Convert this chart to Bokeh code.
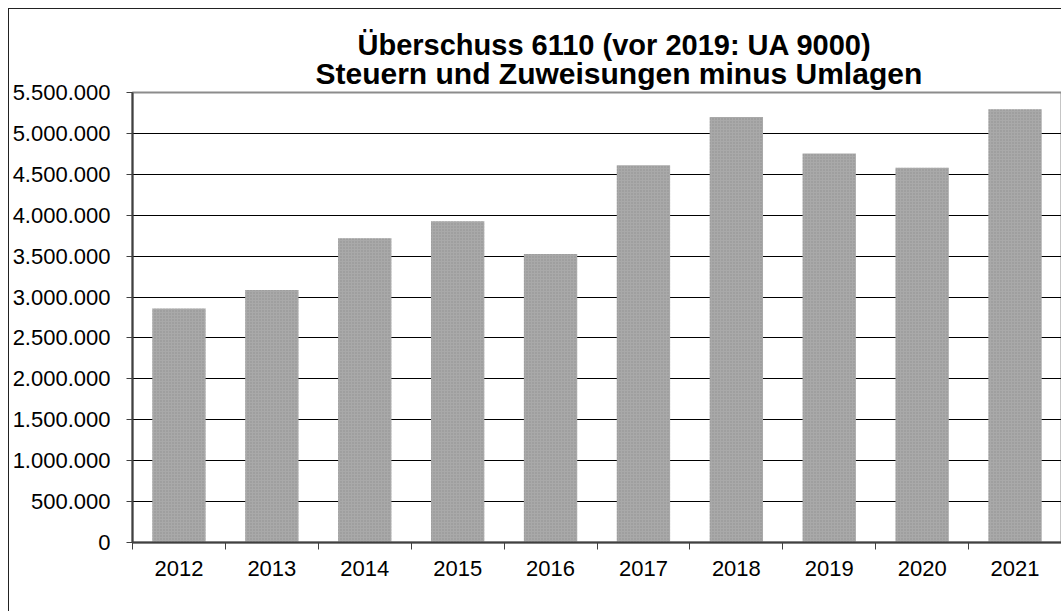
from bokeh.plotting import figure
from bokeh.models import Range1d, FixedTicker, Title
from bokeh.embed import file_html
from bokeh.resources import INLINE

# ---- data ----
years = ["2012", "2013", "2014", "2015", "2016", "2017", "2018", "2019", "2020", "2021"]
values = [2860000, 3085000, 3720000, 3925000, 3525000, 4610000, 5200000, 4755000, 4580000, 5295000]
y_ticks = [0, 500000, 1000000, 1500000, 2000000, 2500000, 3000000, 3500000,
           4000000, 4500000, 5000000, 5500000]
y_tick_labels = ["0", "500.000", "1.000.000", "1.500.000", "2.000.000", "2.500.000",
                 "3.000.000", "3.500.000", "4.000.000", "4.500.000", "5.000.000", "5.500.000"]
title_lines = ["Überschuss 6110 (vor 2019: UA 9000)", "Steuern und Zuweisungen minus Umlagen"]

positions = list(range(1, len(years) + 1))
boundaries = [i + 0.5 for i in range(0, len(years) + 1)]

FONT = "Liberation Sans"

p = figure(width=1053, height=603, output_backend="svg", toolbar_location=None,
           x_range=Range1d(0.5, len(years) + 0.5), y_range=Range1d(0, 5500000),
           min_border_left=123, min_border_right=1, min_border_top=83, min_border_bottom=70,
           background_fill_color="white", border_fill_color="white")
p.styles = {"margin-left": "8px", "margin-top": "8px",
            "border-left": "1px solid #222222", "border-top": "1px solid #222222"}

p.vbar(x=positions, top=values, width=0.574, bottom=0,
       fill_color="#a9a9a9", line_color=None,
       hatch_pattern="dot", hatch_color="#6e6e6e", hatch_alpha=0.45,
       hatch_scale=3, hatch_weight=1)

# title (two lines; later-added goes further out)
p.title.visible = False
title_style = [(183, 5, "30px"), (225, -17, "29px")]  # line 2, line 1
for line, (off, so, fs) in zip(reversed(title_lines), title_style):
    t = Title(text=line, align="left", offset=off, standoff=so,
              text_font=FONT, text_font_style="bold", text_font_size=fs,
              text_color="black")
    p.add_layout(t, "above")

# frame outline
p.outline_line_color = "#8c8c8c"
p.outline_line_width = 2

# grid
p.xgrid.visible = False
p.ygrid.ticker = FixedTicker(ticks=y_ticks)
p.ygrid.grid_line_color = "black"
p.ygrid.grid_line_width = 1

# y axis
ya = p.yaxis[0]
ya.ticker = FixedTicker(ticks=y_ticks)
ya.major_label_overrides = {t: lab for t, lab in zip(y_ticks, y_tick_labels)}
ya.axis_line_color = "#404040"
ya.axis_line_width = 2
ya.major_tick_line_color = "#404040"
ya.major_tick_out = 6
ya.major_tick_in = 0
ya.minor_tick_line_color = None
ya.major_label_standoff = 16
ya.major_label_text_font = FONT
ya.major_label_text_font_size = "22px"
ya.major_label_text_color = "black"

# x axis
xa = p.xaxis[0]
xa.ticker = FixedTicker(ticks=positions, minor_ticks=boundaries)
xa.major_label_overrides = {pos: y for pos, y in zip(positions, years)}
xa.axis_line_color = "#404040"
xa.axis_line_width = 2
xa.major_tick_line_color = None
xa.major_tick_out = 0
xa.major_tick_in = 0
xa.minor_tick_line_color = "#404040"
xa.minor_tick_out = 7
xa.minor_tick_in = 0
xa.major_label_standoff = 11
xa.major_label_text_font = FONT
xa.major_label_text_font_size = "22px"
xa.major_label_text_color = "black"

open("out.html", "w").write(file_html(p, INLINE))
